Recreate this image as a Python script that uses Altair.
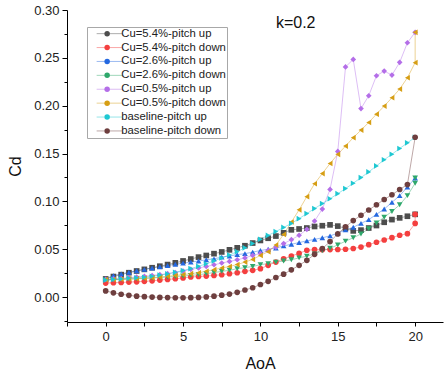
import altair as alt
import pandas as pd

FONT = "Liberation Sans"

AOA_UP = [0, 0.5, 1, 1.5, 2, 2.5, 3, 3.5, 4, 4.5, 5, 5.5, 6, 6.5, 7, 7.5, 8, 8.5, 9, 9.5,
          10, 10.5, 11, 11.5, 12, 12.5, 13, 13.5, 14, 14.5, 15, 15.5, 16, 16.5, 17, 17.5,
          18, 18.5, 19, 19.5, 20]
AOA_DOWN = [20, 20, 19.5, 19, 18.5, 18, 17.5, 17, 16.5, 16, 15.5, 15, 14.5, 14, 13.5, 13,
            12.5, 12, 11.5, 11, 10.5, 10, 9.5, 9, 8.5, 8, 7.5, 7, 6.5, 6, 5.5, 5, 4.5, 4,
            3.5, 3, 2.5, 2, 1.5, 1, 0.5, 0]
AOA_DOWN_BASE = [20, 19.5, 19, 18.5, 18, 17.5, 17, 16.5, 16, 15.5, 15, 14.5, 14, 13.5, 13,
                 12.5, 12, 11.5, 11, 10.5, 10, 9.5, 9, 8.5, 8, 7.5, 7, 6.5, 6, 5.5, 5, 4.5,
                 4, 3.5, 3, 2.5, 2, 1.5, 1, 0.5, 0]

CU54_UP = [0.0190, 0.0215, 0.0235, 0.0255, 0.0273, 0.0290, 0.0307, 0.0323, 0.0340, 0.0358,
           0.0378, 0.0398, 0.0418, 0.0435, 0.0454, 0.0472, 0.0494, 0.0515, 0.0537, 0.0565,
           0.0592, 0.0615, 0.0638, 0.0672, 0.0703, 0.0712, 0.0722, 0.0738, 0.0746, 0.0755,
           0.0742, 0.0718, 0.0692, 0.0700, 0.0722, 0.0748, 0.0782, 0.0810, 0.0828, 0.0845,
           0.0865]
CU54_DOWN = [0.0865, 0.0770, 0.0663, 0.0646, 0.0621, 0.0597, 0.0573, 0.0548, 0.0523, 0.0508,
             0.0500, 0.0498, 0.0497, 0.0496, 0.0496, 0.0490, 0.0457, 0.0430, 0.0400, 0.0366,
             0.0332, 0.0297, 0.0280, 0.0269, 0.0255, 0.0245, 0.0234, 0.0227, 0.0220, 0.0215,
             0.0210, 0.0200, 0.0192, 0.0185, 0.0178, 0.0170, 0.0165, 0.0160, 0.0157, 0.0153,
             0.0150, 0.0147]
CU26_UP = [0.0190, 0.0225, 0.0243, 0.0260, 0.0275, 0.0290, 0.0304, 0.0318, 0.0330, 0.0343,
           0.0355, 0.0366, 0.0377, 0.0390, 0.0400, 0.0418, 0.0430, 0.0444, 0.0454, 0.0470,
           0.0487, 0.0500, 0.0513, 0.0535, 0.0552, 0.0570, 0.0588, 0.0603, 0.0620, 0.0640,
           0.0668, 0.0703, 0.0730, 0.0770, 0.0810, 0.0865, 0.0920, 0.0990, 0.1060, 0.1150,
           0.1245]
CU26_DOWN = [0.1245, 0.1190, 0.1060, 0.0965, 0.0895, 0.0835, 0.0775, 0.0715, 0.0660, 0.0620,
             0.0585, 0.0545, 0.0510, 0.0485, 0.0450, 0.0428, 0.0410, 0.0390, 0.0377, 0.0366,
             0.0350, 0.0339, 0.0320, 0.0308, 0.0297, 0.0280, 0.0269, 0.0257, 0.0245, 0.0235,
             0.0227, 0.0220, 0.0215, 0.0210, 0.0205, 0.0200, 0.0196, 0.0192, 0.0188, 0.0185,
             0.0182, 0.0180]
CU05_UP = [0.0185, 0.0190, 0.0195, 0.0202, 0.0210, 0.0218, 0.0226, 0.0235, 0.0245, 0.0257,
           0.0272, 0.0290, 0.0305, 0.0320, 0.0338, 0.0356, 0.0373, 0.0390, 0.0410, 0.0436,
           0.0456, 0.0489, 0.0523, 0.0559, 0.0600, 0.0646, 0.0708, 0.0795, 0.0920, 0.1125,
           0.1522, 0.2405, 0.2484, 0.1970, 0.2104, 0.2313, 0.2362, 0.2320, 0.2453, 0.2658,
           0.2767]
CU05_DOWN = [0.2767, 0.2450, 0.2292, 0.2174, 0.2083, 0.1996, 0.1912, 0.1825, 0.1745, 0.1666,
             0.1578, 0.1492, 0.1396, 0.1291, 0.1185, 0.1050, 0.0912, 0.0785, 0.0655, 0.0545,
             0.0475, 0.0436, 0.0394, 0.0366, 0.0340, 0.0320, 0.0304, 0.0287, 0.0270, 0.0255,
             0.0245, 0.0235, 0.0226, 0.0218, 0.0210, 0.0203, 0.0198, 0.0193, 0.0190, 0.0187,
             0.0184, 0.0182]
BASE_UP = [0.0178, 0.0185, 0.0190, 0.0197, 0.0202, 0.0208, 0.0218, 0.0230, 0.0243, 0.0260,
           0.0278, 0.0298, 0.0322, 0.0348, 0.0378, 0.0410, 0.0440, 0.0475, 0.0515, 0.0560,
           0.0605, 0.0645, 0.0685, 0.0728, 0.0770, 0.0820, 0.0873, 0.0925, 0.0977, 0.1028,
           0.1081, 0.1134, 0.1190, 0.1249, 0.1308, 0.1371, 0.1435, 0.1493, 0.1553, 0.1612,
           0.1670]
BASE_DOWN = [0.1670, 0.1176, 0.1124, 0.1070, 0.1020, 0.0965, 0.0910, 0.0855, 0.0800, 0.0735,
             0.0660, 0.0580, 0.0506, 0.0447, 0.0384, 0.0332, 0.0285, 0.0240, 0.0205, 0.0165,
             0.0132, 0.0098, 0.0074, 0.0050, 0.0032, 0.0020, 0.0010, 0.0002, -0.0003, -0.0006,
             -0.0007, -0.0007, -0.0005, -0.0003, 0.0000, 0.0005, 0.0010, 0.0019, 0.0030, 0.0045,
             0.0065]

SERIES = ["Cu=5.4%-pitch up", "Cu=5.4%-pitch down", "Cu=2.6%-pitch up", "Cu=2.6%-pitch down",
          "Cu=0.5%-pitch up", "Cu=0.5%-pitch down", "baseline-pitch up", "baseline-pitch down"]
COLORS = ["#4d4d4d", "#f43f3f", "#2468e0", "#2ea86b", "#b46ee8", "#d69e14", "#1ec8d2", "#6e3f3f"]
SHAPES = ["square", "circle", "triangle-up", "triangle-down", "diamond", "triangle-left",
          "triangle-right", "circle"]

PAIRS = [(AOA_UP, CU54_UP), (AOA_DOWN, CU54_DOWN), (AOA_UP, CU26_UP), (AOA_DOWN, CU26_DOWN),
         (AOA_UP, CU05_UP), (AOA_DOWN, CU05_DOWN), (AOA_UP, BASE_UP), (AOA_DOWN_BASE, BASE_DOWN)]

rows = []
for name, (xs, ys) in zip(SERIES, PAIRS):
    for i, (a, c) in enumerate(zip(xs, ys)):
        rows.append({"aoa": a, "cd": c, "series": name, "lkey": name + " ", "idx": i})
df = pd.DataFrame(rows)

X_TICKS = [-2.5, 0, 2.5, 5, 7.5, 10, 12.5, 15, 17.5, 20]
Y_TICKS = [-0.025, 0, 0.025, 0.05, 0.075, 0.1, 0.125, 0.15, 0.175, 0.2, 0.225, 0.25, 0.275, 0.3]

Y_MINOR = "datum.value < -0.001 || abs(datum.value * 20 - round(datum.value * 20)) > 0.01"
X_MINOR = "abs(datum.value / 5 - round(datum.value / 5)) > 0.01"

x_scale = alt.Scale(domain=[-2.5, 21.8], nice=False, zero=False)
y_scale = alt.Scale(domain=[-0.026, 0.3], nice=False, zero=False)

x_axis = alt.Axis(title="AoA", values=X_TICKS, format="~g",
                  labelExpr=f"({X_MINOR}) ? '' : datum.label",
                  grid=False, tickSize=4, tickColor="#000", domainColor="#000",
                  labelFontSize=13, labelColor="#222", labelFont=FONT, labelPadding=4,
                  labelOverlap=False,
                  titleFont=FONT, titleFontSize=16, titleFontWeight="normal",
                  titleColor="#111", titleX=193, titleY=41, titleBaseline="middle")
y_axis = alt.Axis(title="Cd", values=Y_TICKS, format=".2f",
                  labelExpr=f"({Y_MINOR}) ? '' : datum.label",
                  tickSize={"condition": {"test": Y_MINOR, "value": 3}, "value": 5},
                  grid=False, tickColor="#000", domainColor="#000",
                  labelFontSize=13, labelColor="#222", labelFont=FONT, labelPadding=3,
                  labelOverlap=False,
                  titleFont=FONT, titleFontSize=16, titleFontWeight="normal",
                  titleColor="#111", titleX=-52, titleY=156, titleAngle=270,
                  titleBaseline="middle", titleAlign="center")

x_enc = alt.X("aoa:Q", scale=x_scale, axis=x_axis)
y_enc = alt.Y("cd:Q", scale=y_scale, axis=y_axis)

line_legend = alt.Legend(title=None, orient="none", legendX=20, legendY=17,
                         symbolType="M3,0H29", symbolSize=4, symbolStrokeWidth=1,
                         symbolOpacity=0.45, labelFont=FONT, labelColor="#222",
                         labelFontSize=11.3, labelOffset=22, padding=1, rowPadding=1.9,
                         fillColor="white", strokeColor="#a8a8a8")
point_legend = alt.Legend(title=None, orient="none", legendX=33.5, legendY=17,
                          symbolSize=30, symbolStrokeWidth=0, labelFont=FONT,
                          labelExpr="' '", labelFontSize=11.3, labelOffset=2,
                          padding=1, rowPadding=1.9)

lines = alt.Chart(df).mark_line(strokeWidth=1, opacity=0.45).encode(
    x=x_enc, y=y_enc,
    color=alt.Color("lkey:N", scale=alt.Scale(domain=[s + " " for s in SERIES], range=COLORS),
                    legend=line_legend),
    detail="series:N",
    order=alt.Order("idx:Q"),
)
points = alt.Chart(df).mark_point(filled=True, size=32, opacity=1, strokeWidth=0).encode(
    x=x_enc, y=y_enc,
    color=alt.Color("series:N", scale=alt.Scale(domain=SERIES, range=COLORS), legend=point_legend),
    shape=alt.Shape("series:N", scale=alt.Scale(domain=SERIES, range=SHAPES), legend=point_legend),
)
label_df = pd.DataFrame({"aoa": [11.0], "cd": [0.2864], "text": ["k=0.2"]})
label = alt.Chart(label_df).mark_text(align="left", baseline="middle", font=FONT, fontSize=16,
                                      color="#111").encode(
    x=x_enc, y=y_enc, text="text:N")

chart = alt.layer(lines, points, label).resolve_scale(color="independent").properties(
    width=376, height=312,
    padding={"left": 67, "top": 10, "right": 1, "bottom": 51},
    autosize=alt.AutoSizeParams(type="none"),
    background="white",
).configure_view(stroke=None)

chart.save("out.html", embed_options={"renderer": "svg", "actions": False})
